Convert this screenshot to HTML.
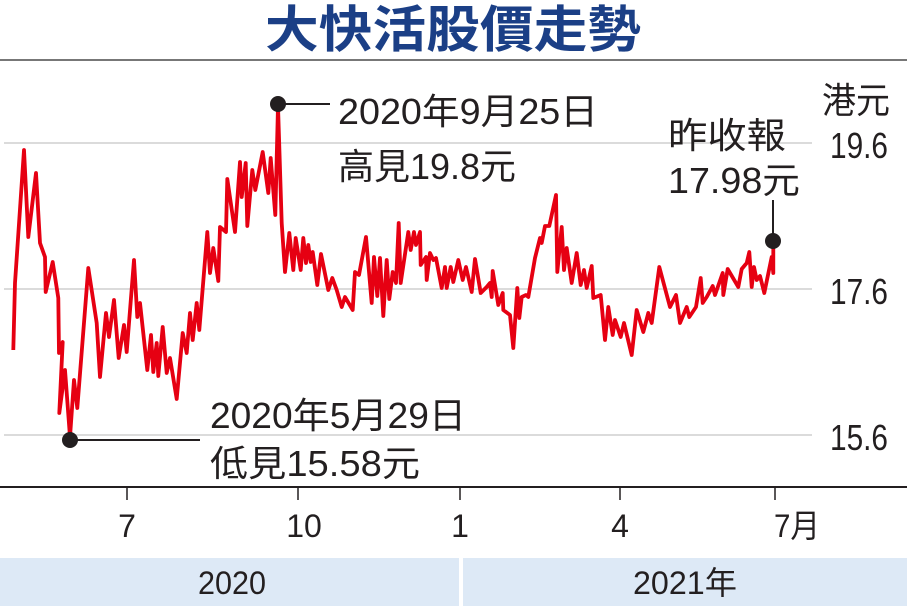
<!DOCTYPE html>
<html><head><meta charset="utf-8"><style>
html,body{margin:0;padding:0;background:#fff;}
svg{display:block;}
text{font-family:"Liberation Sans Narrow","Liberation Sans","Noto Sans CJK TC",sans-serif;fill:#231f20;}
</style></head><body>
<svg width="907" height="616" viewBox="0 0 907 616" xmlns="http://www.w3.org/2000/svg">
<text x="453" y="47" text-anchor="middle" font-size="50" font-weight="bold" style="fill:#1b3f86;font-family:'Noto Sans CJK TC',sans-serif" textLength="376" lengthAdjust="spacingAndGlyphs">大快活股價走勢</text>
<line x1="0" y1="60" x2="907" y2="60" stroke="#777" stroke-width="2"/>
<g stroke="#cfcfcf" stroke-width="1.5">
<line x1="4" y1="143" x2="812" y2="143"/>
<line x1="4" y1="289" x2="812" y2="289"/>
<line x1="4" y1="435" x2="812" y2="435"/>
</g>
<polyline fill="none" stroke="#e60012" stroke-width="3.8" stroke-linejoin="round" points="13.3,350 15,283 24,150 28.3,237 36,173 40,243 45,257 45.7,292 52.7,262 58.3,298 59,353 62.7,342 59.3,413 65,370 70,437 74,380 77.3,408 88.3,268 96.7,323 100,377 106,313 109,337 114,300 118.7,358 124,325 126.7,352 134,260 137.3,317 140,303 147.3,370 151,335 153.3,372 156.7,343 158.3,376 162.7,327 166.7,373 170,358 176.7,399 182.7,333 186.7,353 190,313 192.7,340 196.7,303 199.3,330 207.3,232 210,273 213.3,248 218.3,281 220,227 226,232 227.3,179 235,232 240,162 241.7,197 245.7,163 247.3,226 252.3,170 255.3,190 262.7,152 268.3,193 270.7,158 275.3,215 278,106 281.7,223 285,272 289.3,233 293.3,270 295.7,238 300.7,270 303.3,238 306,263 308.3,245 310.7,262 312.7,252 317.3,285 321,254 328.3,290 332.3,278 336.7,290 341.7,307 345,297 352.7,310 355,272 359,275 366,237 371.7,303 374,257 377.3,296 380,258 383.3,316 386.7,260 389.3,299 392.7,272 396,283 398.7,223 400.7,283 408.3,232 410.7,250 414,232 416,245 420,232 420.7,265 426,257 426.7,280 430,253 433.3,260 436,258 441.7,288 445,267 446.7,288 450.7,267 453.3,282 458.3,260 462.7,280 466,267 471.7,292 475,259 480.7,293 486.7,287 490,283 491.7,297 492.7,271 498.3,305 502.7,293 503.3,310 510,315 513.3,348 517.3,288 519.3,318 521.7,297 526,295 528.3,297 535,258 540,238 541.7,243 545,226 549.3,226 556,195 557.3,272 561.7,227 564,270 566.7,248 571.7,283 576.7,253 580.7,285 584,270 586.7,288 591.7,266 593.3,298 600.7,295 605,340 608.3,307 612.7,335 615,320 620.7,337 624,323 631.7,355 636.7,310 643.3,332 648.3,313 651.7,323 659.3,267 670,307 676,295 680,323 686.7,307 689.3,317 696,307 700.7,278 702.7,303 706.7,297 712.7,286 715,295 722.7,273 723.3,295 727.7,269 738.3,287 741.7,269 746.7,263 749.3,252 751.7,287 754,267 756.7,280 760,276 764.3,293 771.7,257 773.3,273 773.3,242"/>
<g stroke="#231f20" stroke-width="2">
<line x1="278" y1="104" x2="330" y2="104"/>
<line x1="70" y1="440" x2="200" y2="440"/>
<line x1="773" y1="241" x2="773" y2="200"/>
</g>
<g fill="#231f20">
<circle cx="278" cy="104" r="8"/>
<circle cx="70" cy="440" r="8"/>
<circle cx="773" cy="241" r="8"/>
</g>
<g font-size="36">
<text x="338" y="124" textLength="260" lengthAdjust="spacingAndGlyphs">2020年9月25日</text>
<text x="338" y="179" textLength="178" lengthAdjust="spacingAndGlyphs">高見19.8元</text>
<text x="210" y="428" textLength="256" lengthAdjust="spacingAndGlyphs">2020年5月29日</text>
<text x="210" y="476" textLength="210" lengthAdjust="spacingAndGlyphs">低見15.58元</text>
<text x="668" y="148" textLength="118" lengthAdjust="spacingAndGlyphs">昨收報</text>
<text x="668" y="193" textLength="132" lengthAdjust="spacingAndGlyphs">17.98元</text>
<text x="822" y="113" textLength="68" lengthAdjust="spacingAndGlyphs">港元</text>
<text x="830" y="158" textLength="58" lengthAdjust="spacingAndGlyphs">19.6</text>
<text x="830" y="304" textLength="58" lengthAdjust="spacingAndGlyphs">17.6</text>
<text x="830" y="450" textLength="58" lengthAdjust="spacingAndGlyphs">15.6</text>
</g>
<line x1="0" y1="487" x2="907" y2="487" stroke="#231f20" stroke-width="2"/>
<g stroke="#231f20" stroke-width="1.5">
<line x1="127" y1="487" x2="127" y2="500"/>
<line x1="298" y1="487" x2="298" y2="500"/>
<line x1="460" y1="487" x2="460" y2="500"/>
<line x1="620" y1="487" x2="620" y2="500"/>
<line x1="775" y1="487" x2="775" y2="500"/>
</g>
<g font-size="32" text-anchor="middle">
<text x="127" y="537">7</text>
<text x="304" y="537">10</text>
<text x="460" y="537">1</text>
<text x="620" y="537">4</text>
<text x="797" y="537" textLength="46" lengthAdjust="spacingAndGlyphs">7月</text>
</g>
<rect x="0" y="558" width="459" height="48" fill="#dde9f6"/>
<rect x="463" y="558" width="444" height="48" fill="#dde9f6"/>
<g font-size="32" text-anchor="middle">
<text x="232" y="594" textLength="68" lengthAdjust="spacingAndGlyphs">2020</text>
<text x="685" y="594" textLength="104" lengthAdjust="spacingAndGlyphs">2021年</text>
</g>
</svg>
</body></html>
